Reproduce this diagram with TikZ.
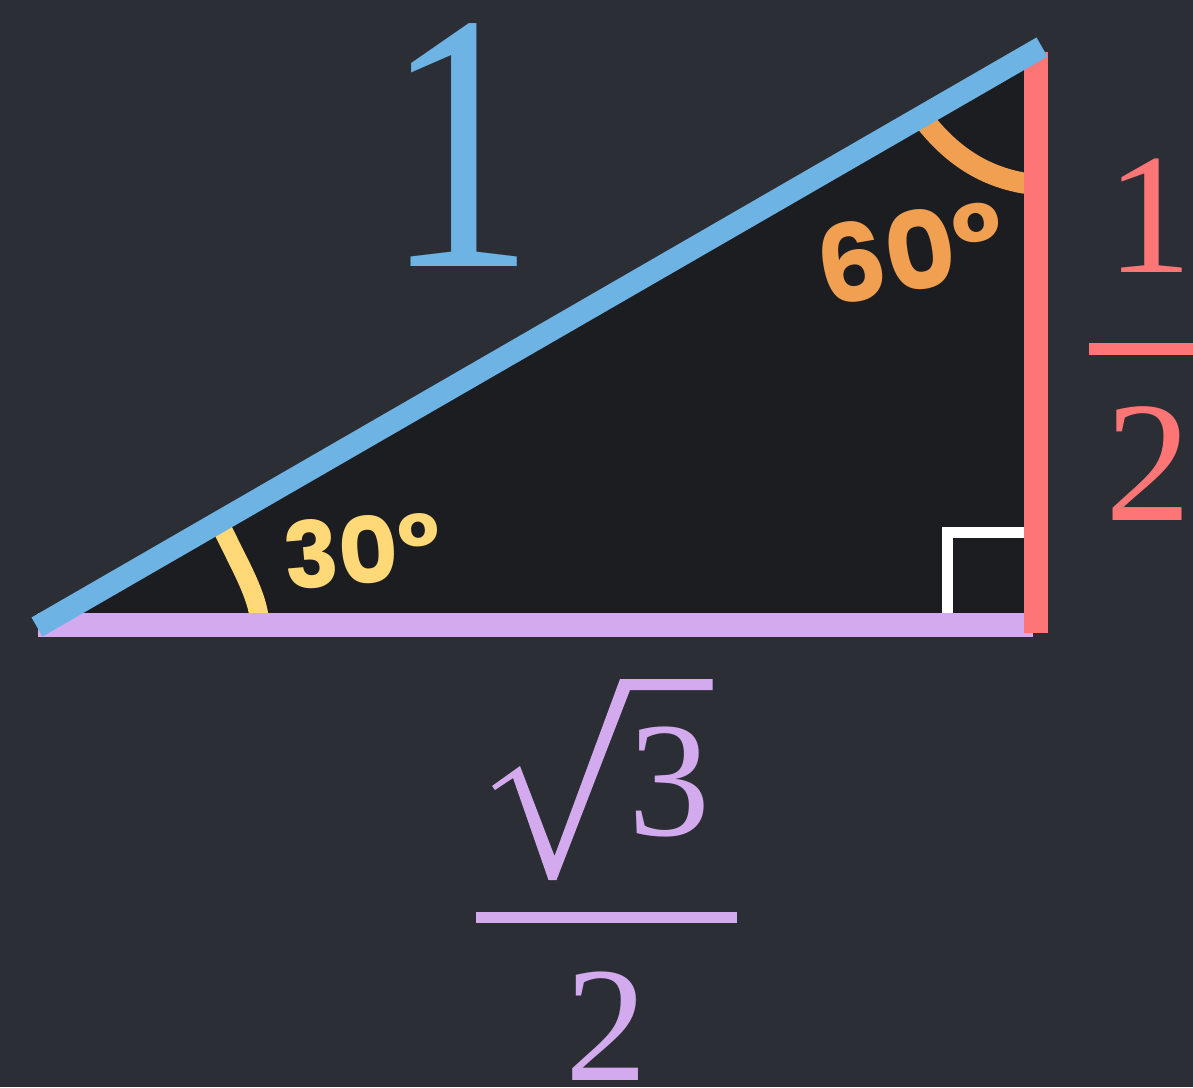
\documentclass[tikz,border=0pt]{standalone}
\usepackage{fontspec}
\setmainfont{Liberation Serif}
\newfontfamily\chalk{Poppins}
\definecolor{bgc}{HTML}{2B2E35}
\definecolor{innerc}{HTML}{1C1D21}
\definecolor{bluec}{HTML}{6DB3E4}
\definecolor{redc}{HTML}{FE7575}
\definecolor{purplec}{HTML}{D4AAEE}
\definecolor{yellowc}{HTML}{FFD978}
\definecolor{orangec}{HTML}{F0A050}
\begin{document}
\begin{tikzpicture}[x=0.5pt,y=-0.5pt,
  num/.style={inner sep=0pt, anchor=base},
  chalktxt/.style={inner sep=0pt, anchor=center}]
\fill[bgc] (0,0) rectangle (1193,1087);
\useasboundingbox (0,0) rectangle (1193,1087);
% vertices
\coordinate (L) at (37,625);
\coordinate (T) at (1036,51);
\coordinate (R) at (1036,624.5);
\fill[innerc] (L) -- (T) -- (R) -- cycle;
% angle marks
\coordinate (y1) at (219,522);
\coordinate (y2) at (259,616);
\draw[yellowc, line width=9.5pt] (y1) .. controls (238,562) and (255,590) .. (y2);
\coordinate (o1) at (921,116);
\coordinate (o2) at (1030,184);
\draw[orangec, line width=10.5pt] (o1) .. controls (950,155) and (985,178) .. (o2);
% right angle
\coordinate (w1) at (947.5,614);
\coordinate (w2) at (947.5,532.5);
\coordinate (w3) at (1026,532.5);
\draw[white, line width=5.5pt, line join=miter] (w1) -- (w2) -- (w3);
% sides
\coordinate (pA) at (38,624.5);
\coordinate (pB) at (1033,624.5);
\draw[purplec, line width=12pt] (pA) -- (pB);
\coordinate (rA) at (1036,52);
\coordinate (rB) at (1036,633);
\draw[redc, line width=12pt] (rA) -- (rB);
\coordinate (bA) at (37,627);
\coordinate (bB) at (1042,47);
\draw[bluec, line width=11pt] (bA) -- (bB);
% hypotenuse label
\node[num, text=bluec, xscale=0.82, font=\fontsize{184}{184}\selectfont] (one) at (460,266) {1};
% 1/2
\node[num, text=redc, font=\fontsize{86}{86}\selectfont] (rnum) at (1149,272) {1};
\node[num, text=redc, font=\fontsize{86}{86}\selectfont] (rden) at (1148.5,520) {2};
\coordinate (rbA) at (1089,349);
\coordinate (rbB) at (1193,349);
\draw[redc, line width=6pt] (rbA) -- (rbB);
% sqrt3/2
\node[num, text=purplec, font=\fontsize{82}{82}\selectfont] (pthree) at (669.5,835) {3};
\fill[purplec] (492,786) -- (520,766) -- (554.5,856) -- (620,679) -- (712.5,679) -- (712.5,690) -- (630,690) -- (556.5,880) -- (548.5,880) -- (513,778) -- (495,790) -- cycle;
\coordinate (pbA) at (476,917.5);
\coordinate (pbB) at (737,917.5);
\draw[purplec, line width=5.5pt] (pbA) -- (pbB);
\node[num, text=purplec, font=\fontsize{82}{82}\selectfont] (ptwo) at (606.5,1080) {2};
% chalk angle labels
\node[chalktxt, text=yellowc, rotate=5, font=\chalk\bfseries\fontsize{46}{46}\selectfont] (t30) at (362,550) {30°};
\node[chalktxt, text=orangec, rotate=10, font=\chalk\bfseries\fontsize{54}{54}\selectfont] (t60) at (911,252) {60°};
\end{tikzpicture}
\end{document}
